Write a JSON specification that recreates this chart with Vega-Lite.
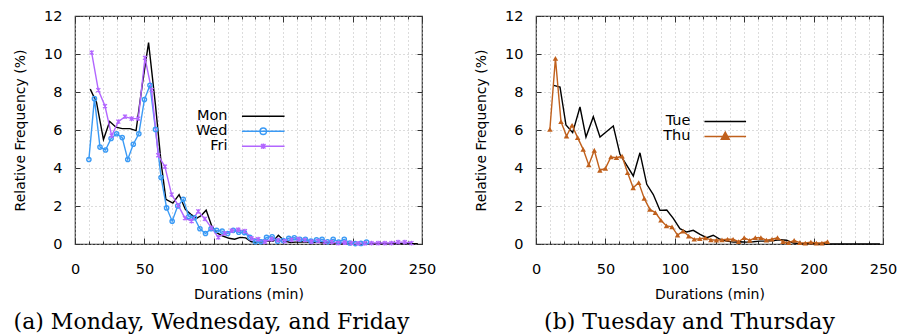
{
  "$schema": "https://vega.github.io/schema/vega-lite/v6.json",
  "background": "white",
  "padding": {"left": 12, "top": 7, "right": 5, "bottom": 0},
  "spacing": 36,
  "resolve": {"scale": {"color": "independent"}, "legend": {"color": "independent"}},
  "datasets": {
    "left": [
      {"day":"Mon","t":11,"f":8.15},{"day":"Mon","t":15.5,"f":7.45},{"day":"Mon","t":20.5,"f":5.5},{"day":"Mon","t":25,"f":6.45},{"day":"Mon","t":29.5,"f":6.15},{"day":"Mon","t":34,"f":6.07},{"day":"Mon","t":39.5,"f":6.07},{"day":"Mon","t":44,"f":5.97},{"day":"Mon","t":48.5,"f":8.4},{"day":"Mon","t":53,"f":10.6},{"day":"Mon","t":58,"f":7.3},{"day":"Mon","t":62,"f":4.3},{"day":"Mon","t":65.5,"f":2.35},{"day":"Mon","t":70.5,"f":2.15},{"day":"Mon","t":75,"f":2.6},{"day":"Mon","t":79.5,"f":1.82},{"day":"Mon","t":83.5,"f":1.56},{"day":"Mon","t":87.5,"f":1.35},{"day":"Mon","t":91,"f":1.5},{"day":"Mon","t":94.5,"f":1.78},{"day":"Mon","t":98.5,"f":0.95},{"day":"Mon","t":102,"f":0.6},{"day":"Mon","t":106.5,"f":0.42},{"day":"Mon","t":111,"f":0.3},{"day":"Mon","t":115,"f":0.25},{"day":"Mon","t":119,"f":0.35},{"day":"Mon","t":123,"f":0.32},{"day":"Mon","t":127,"f":0.12},{"day":"Mon","t":131,"f":0.1},{"day":"Mon","t":135,"f":0.12},{"day":"Mon","t":139,"f":0.15},{"day":"Mon","t":143,"f":0.16},{"day":"Mon","t":146.5,"f":0.46},{"day":"Mon","t":151,"f":0.16},{"day":"Mon","t":155,"f":0.08},{"day":"Mon","t":159,"f":0.1},{"day":"Mon","t":163,"f":0.12},{"day":"Mon","t":167,"f":0.1},{"day":"Mon","t":171,"f":0.08},{"day":"Mon","t":175,"f":0.1},{"day":"Mon","t":179,"f":0.05},{"day":"Mon","t":183,"f":0.08},{"day":"Mon","t":187,"f":0.05},{"day":"Mon","t":191,"f":0.05},{"day":"Mon","t":195,"f":0.03},{"day":"Mon","t":199,"f":0.05},{"day":"Mon","t":203,"f":0.02},{"day":"Mon","t":207,"f":0.03},{"day":"Mon","t":211,"f":0.02},{"day":"Mon","t":215,"f":0.02},{"day":"Mon","t":219,"f":0.02},{"day":"Mon","t":223,"f":0.03},{"day":"Mon","t":227,"f":0.02},{"day":"Mon","t":231,"f":0.02},{"day":"Mon","t":235,"f":0.03},{"day":"Mon","t":239,"f":0.02},{"day":"Mon","t":243,"f":0.02},{"day":"Mon","t":247,"f":0.02},
      {"day":"Wed","t":10,"f":4.45},{"day":"Wed","t":14,"f":7.65},{"day":"Wed","t":18,"f":5.1},{"day":"Wed","t":22,"f":4.95},{"day":"Wed","t":26,"f":5.55},{"day":"Wed","t":30,"f":5.8},{"day":"Wed","t":34,"f":5.6},{"day":"Wed","t":38,"f":4.45},{"day":"Wed","t":42,"f":5.25},{"day":"Wed","t":46,"f":5.8},{"day":"Wed","t":50,"f":7.6},{"day":"Wed","t":54,"f":8.35},{"day":"Wed","t":58,"f":6.03},{"day":"Wed","t":62,"f":3.5},{"day":"Wed","t":66,"f":1.9},{"day":"Wed","t":70,"f":1.2},{"day":"Wed","t":74,"f":2.0},{"day":"Wed","t":78,"f":2.35},{"day":"Wed","t":82,"f":1.45},{"day":"Wed","t":86,"f":1.38},{"day":"Wed","t":90,"f":0.8},{"day":"Wed","t":94,"f":0.55},{"day":"Wed","t":98,"f":0.8},{"day":"Wed","t":102,"f":0.72},{"day":"Wed","t":106,"f":0.68},{"day":"Wed","t":110,"f":0.55},{"day":"Wed","t":114,"f":0.72},{"day":"Wed","t":118,"f":0.62},{"day":"Wed","t":122,"f":0.6},{"day":"Wed","t":126,"f":0.35},{"day":"Wed","t":130,"f":0.12},{"day":"Wed","t":134,"f":0.12},{"day":"Wed","t":138,"f":0.35},{"day":"Wed","t":142,"f":0.38},{"day":"Wed","t":146,"f":0.15},{"day":"Wed","t":150,"f":0.18},{"day":"Wed","t":154,"f":0.3},{"day":"Wed","t":158,"f":0.33},{"day":"Wed","t":162,"f":0.25},{"day":"Wed","t":166,"f":0.25},{"day":"Wed","t":170,"f":0.15},{"day":"Wed","t":174,"f":0.22},{"day":"Wed","t":178,"f":0.25},{"day":"Wed","t":182,"f":0.12},{"day":"Wed","t":186,"f":0.25},{"day":"Wed","t":190,"f":0.1},{"day":"Wed","t":194,"f":0.25},{"day":"Wed","t":198,"f":0.05},{"day":"Wed","t":202,"f":0.02},{"day":"Wed","t":206,"f":0.03},{"day":"Wed","t":210,"f":0.1},
      {"day":"Fri","t":12,"f":10.07},{"day":"Fri","t":16.8,"f":8.1},{"day":"Fri","t":21.6,"f":7.26},{"day":"Fri","t":26.4,"f":5.7},{"day":"Fri","t":31.2,"f":6.44},{"day":"Fri","t":36,"f":6.7},{"day":"Fri","t":40.8,"f":6.6},{"day":"Fri","t":45.6,"f":6.6},{"day":"Fri","t":50.4,"f":9.8},{"day":"Fri","t":55.2,"f":8.1},{"day":"Fri","t":60,"f":4.67},{"day":"Fri","t":64.8,"f":4.07},{"day":"Fri","t":69.6,"f":2.6},{"day":"Fri","t":74.4,"f":2.03},{"day":"Fri","t":79.2,"f":1.36},{"day":"Fri","t":84,"f":1.21},{"day":"Fri","t":88.8,"f":1.72},{"day":"Fri","t":93.6,"f":1.32},{"day":"Fri","t":98.4,"f":0.85},{"day":"Fri","t":103.2,"f":0.35},{"day":"Fri","t":108,"f":0.56},{"day":"Fri","t":112.8,"f":0.7},{"day":"Fri","t":117.6,"f":0.75},{"day":"Fri","t":122.4,"f":0.68},{"day":"Fri","t":127.2,"f":0.3},{"day":"Fri","t":132,"f":0.25},{"day":"Fri","t":136.8,"f":0.12},{"day":"Fri","t":141.6,"f":0.25},{"day":"Fri","t":146.4,"f":0.2},{"day":"Fri","t":151.2,"f":0.15},{"day":"Fri","t":156,"f":0.22},{"day":"Fri","t":160.8,"f":0.25},{"day":"Fri","t":165.6,"f":0.2},{"day":"Fri","t":170.4,"f":0.12},{"day":"Fri","t":175.2,"f":0.15},{"day":"Fri","t":180,"f":0.1},{"day":"Fri","t":184.8,"f":0.1},{"day":"Fri","t":189.6,"f":0.05},{"day":"Fri","t":194.4,"f":0.08},{"day":"Fri","t":199.2,"f":0.05},{"day":"Fri","t":204,"f":0.03},{"day":"Fri","t":208.8,"f":0.03},{"day":"Fri","t":213.6,"f":0.05},{"day":"Fri","t":218.4,"f":0.05},{"day":"Fri","t":223.2,"f":0.05},{"day":"Fri","t":228,"f":0.05},{"day":"Fri","t":232.8,"f":0.1},{"day":"Fri","t":237.6,"f":0.1},{"day":"Fri","t":242.4,"f":0.05}
    ],
    "right": [
      {"day":"Tue","t":12.7,"f":8.35},{"day":"Tue","t":17.3,"f":8.26},{"day":"Tue","t":21.6,"f":6.26},{"day":"Tue","t":26.4,"f":5.86},{"day":"Tue","t":31.7,"f":7.21},{"day":"Tue","t":36,"f":5.63},{"day":"Tue","t":41.3,"f":6.7},{"day":"Tue","t":46.1,"f":5.63},{"day":"Tue","t":50.9,"f":5.92},{"day":"Tue","t":55.7,"f":6.21},{"day":"Tue","t":60.5,"f":4.72},{"day":"Tue","t":65.3,"f":4.15},{"day":"Tue","t":70.1,"f":3.58},{"day":"Tue","t":74.9,"f":4.8},{"day":"Tue","t":79.8,"f":3.14},{"day":"Tue","t":84.5,"f":2.6},{"day":"Tue","t":89.3,"f":1.77},{"day":"Tue","t":94.2,"f":1.79},{"day":"Tue","t":98.9,"f":1.35},{"day":"Tue","t":103.7,"f":0.81},{"day":"Tue","t":108.6,"f":0.63},{"day":"Tue","t":113.3,"f":0.72},{"day":"Tue","t":118.2,"f":0.51},{"day":"Tue","t":123,"f":0.33},{"day":"Tue","t":127.7,"f":0.46},{"day":"Tue","t":132.6,"f":0.25},{"day":"Tue","t":137.4,"f":0.15},{"day":"Tue","t":142.2,"f":0.1},{"day":"Tue","t":147,"f":0.12},{"day":"Tue","t":151.8,"f":0.1},{"day":"Tue","t":156.6,"f":0.12},{"day":"Tue","t":161.4,"f":0.15},{"day":"Tue","t":166.2,"f":0.15},{"day":"Tue","t":171,"f":0.18},{"day":"Tue","t":175.8,"f":0.22},{"day":"Tue","t":180.6,"f":0.2},{"day":"Tue","t":185.4,"f":0.05},{"day":"Tue","t":190.2,"f":0.02},{"day":"Tue","t":195,"f":0.02},{"day":"Tue","t":199.8,"f":0.01},{"day":"Tue","t":204.6,"f":0.01},{"day":"Tue","t":209.4,"f":0},{"day":"Tue","t":214.2,"f":0},{"day":"Tue","t":219,"f":0},{"day":"Tue","t":223.8,"f":0},{"day":"Tue","t":228.6,"f":0},{"day":"Tue","t":233.4,"f":0},{"day":"Tue","t":238.2,"f":0},{"day":"Tue","t":243,"f":0},{"day":"Tue","t":247.8,"f":0},
      {"day":"Thu","t":10,"f":6.03},{"day":"Thu","t":14,"f":9.77},{"day":"Thu","t":18,"f":6.44},{"day":"Thu","t":22,"f":5.68},{"day":"Thu","t":26,"f":6.25},{"day":"Thu","t":30,"f":5.6},{"day":"Thu","t":34,"f":4.98},{"day":"Thu","t":38,"f":4.16},{"day":"Thu","t":42,"f":4.93},{"day":"Thu","t":46,"f":3.88},{"day":"Thu","t":50,"f":3.98},{"day":"Thu","t":54,"f":4.58},{"day":"Thu","t":58,"f":4.54},{"day":"Thu","t":62,"f":4.62},{"day":"Thu","t":66,"f":3.75},{"day":"Thu","t":70,"f":2.96},{"day":"Thu","t":74,"f":3.23},{"day":"Thu","t":78,"f":2.4},{"day":"Thu","t":82,"f":1.82},{"day":"Thu","t":86,"f":1.65},{"day":"Thu","t":90,"f":1.25},{"day":"Thu","t":94,"f":0.95},{"day":"Thu","t":98,"f":0.9},{"day":"Thu","t":102,"f":0.47},{"day":"Thu","t":106,"f":0.68},{"day":"Thu","t":110,"f":0.42},{"day":"Thu","t":114,"f":0.25},{"day":"Thu","t":118,"f":0.28},{"day":"Thu","t":122,"f":0.32},{"day":"Thu","t":126,"f":0.22},{"day":"Thu","t":130,"f":0.2},{"day":"Thu","t":134,"f":0.22},{"day":"Thu","t":138,"f":0.25},{"day":"Thu","t":142,"f":0.25},{"day":"Thu","t":146,"f":0.12},{"day":"Thu","t":150,"f":0.33},{"day":"Thu","t":154,"f":0.19},{"day":"Thu","t":158,"f":0.33},{"day":"Thu","t":162,"f":0.33},{"day":"Thu","t":166,"f":0.2},{"day":"Thu","t":170,"f":0.25},{"day":"Thu","t":174,"f":0.33},{"day":"Thu","t":178,"f":0.12},{"day":"Thu","t":182,"f":0.07},{"day":"Thu","t":186,"f":0.19},{"day":"Thu","t":190,"f":0.07},{"day":"Thu","t":194,"f":0.05},{"day":"Thu","t":198,"f":0.1},{"day":"Thu","t":202,"f":0.05},{"day":"Thu","t":206,"f":0.05},{"day":"Thu","t":210,"f":0.12}
    ]
  },
  "hconcat": [
    {
      "width": 347,
      "height": 228,
      "data": {"name": "left"},
      "title": {"text": "(a) Monday, Wednesday, and Friday", "orient": "bottom", "anchor": "middle", "frame": "group", "dx": -37, "offset": 10, "font": "DejaVu Serif", "fontSize": 22, "fontWeight": "normal", "color": "#000"},
      "layer": [
        {
          "mark": {"type": "line", "strokeWidth": 1.4},
          "encoding": {
            "x": {"field": "t", "type": "quantitative", "scale": {"domain": [0, 250], "nice": false},
              "axis": {"orient": "bottom", "values": [0,10,20,30,40,50,60,70,80,90,100,110,120,130,140,150,160,170,180,190,200,210,220,230,240,250],
                "labelExpr": "datum.value % 50 === 0 ? datum.label : ''",
                "tickSize": {"condition": {"test": "datum.value % 50 === 0", "value": -6}, "value": -3},
                "labelPadding": 24, "labelFlush": false, "labelOverlap": false, "grid": true,
                "title": "Durations (min)", "titlePadding": 9}},
            "y": {"field": "f", "type": "quantitative", "scale": {"domain": [0, 12], "nice": false},
              "axis": {"orient": "left", "values": [0,2,4,6,8,10,12], "tickSize": -5, "labelPadding": 18, "grid": true,
                "title": "Relative Frequency (%)", "titlePadding": 16}},
            "color": {"field": "day", "type": "nominal",
              "scale": {"domain": ["Mon", "Wed", "Fri"], "range": ["#000000", "#3a9af5", "#b266ff"]},
              "legend": {"orient": "none", "legendX": 181, "legendY": 93, "title": null, "padding": 0,
                "symbolType": "stroke", "symbolSize": 100, "symbolStrokeWidth": 1.4,
                "labelAlign": "right", "labelOffset": -43, "labelFontSize": 14.5, "rowPadding": 0, "labelLimit": 0,
                "encode": {"symbols": {"update": {
                  "shape": {"signal": "datum.value === 'Wed' ? 'M-4.26,0H4.26M-0.64,0A0.64,0.64,0,1,0,0.64,0A0.64,0.64,0,1,0,-0.64,0' : datum.value === 'Fri' ? 'M-4.26,0H4.26M-0.45,-0.45L0.45,0.45M-0.45,0.45L0.45,-0.45M0,-0.55L0,0.55' : 'M-4.26,0H4.26'"},
                  "fill": {"value": "transparent"}}}}}}
          }
        },
        {
          "transform": [{"filter": "datum.day === 'Wed'"}],
          "mark": {"type": "point", "shape": "circle", "filled": false, "color": "#3a9af5", "strokeWidth": 1.4, "size": 18, "opacity": 1},
          "encoding": {
            "x": {"field": "t", "type": "quantitative",
              "axis": {"orient": "top", "values": [0,10,20,30,40,50,60,70,80,90,100,110,120,130,140,150,160,170,180,190,200,210,220,230,240,250],
                "tickSize": {"condition": {"test": "datum.value % 50 === 0", "value": -6}, "value": -3},
                "labels": false, "grid": false, "title": null}},
            "y": {"field": "f", "type": "quantitative",
              "axis": {"orient": "right", "values": [0,2,4,6,8,10,12], "tickSize": -5, "labels": false, "grid": false, "title": null}}
          }
        },
        {
          "transform": [{"filter": "datum.day === 'Fri'"}],
          "mark": {"type": "point", "shape": "M-1,-1L1,1M-1,1L1,-1M0,-1.2L0,1.2", "filled": false, "color": "#b266ff", "strokeWidth": 1.2, "size": 16, "opacity": 1},
          "encoding": {
            "x": {"field": "t", "type": "quantitative", "axis": null},
            "y": {"field": "f", "type": "quantitative", "axis": null}
          }
        }
      ]
    },
    {
      "width": 347,
      "height": 228,
      "data": {"name": "right"},
      "title": {"text": "(b) Tuesday and Thursday", "orient": "bottom", "anchor": "middle", "frame": "group", "dx": -20, "offset": 10, "font": "DejaVu Serif", "fontSize": 22, "fontWeight": "normal", "color": "#000"},
      "layer": [
        {
          "mark": {"type": "line", "strokeWidth": 1.4},
          "encoding": {
            "x": {"field": "t", "type": "quantitative", "scale": {"domain": [0, 250], "nice": false},
              "axis": {"orient": "bottom", "values": [0,10,20,30,40,50,60,70,80,90,100,110,120,130,140,150,160,170,180,190,200,210,220,230,240,250],
                "labelExpr": "datum.value % 50 === 0 ? datum.label : ''",
                "tickSize": {"condition": {"test": "datum.value % 50 === 0", "value": -6}, "value": -3},
                "labelPadding": 24, "labelFlush": false, "labelOverlap": false, "grid": true,
                "title": "Durations (min)", "titlePadding": 9}},
            "y": {"field": "f", "type": "quantitative", "scale": {"domain": [0, 12], "nice": false},
              "axis": {"orient": "left", "values": [0,2,4,6,8,10,12], "tickSize": -5, "labelPadding": 18, "grid": true,
                "title": "Relative Frequency (%)", "titlePadding": 16}},
            "color": {"field": "day", "type": "nominal",
              "scale": {"domain": ["Tue", "Thu"], "range": ["#000000", "#c0601c"]},
              "legend": {"orient": "none", "legendX": 182, "legendY": 98.2, "title": null, "padding": 0,
                "symbolType": "stroke", "symbolSize": 100, "symbolStrokeWidth": 1.4,
                "labelAlign": "right", "labelOffset": -42, "labelFontSize": 14.5, "rowPadding": 0, "labelLimit": 0,
                "encode": {"symbols": {"update": {
                  "shape": {"signal": "datum.value === 'Thu' ? 'M-4.16,0H4.16M0,-0.85L0.8,0.55L-0.8,0.55Z' : 'M-4.16,0H4.16'"},
                  "fill": {"signal": "datum.value === 'Thu' ? '#c0601c' : 'transparent'"}}}}}}
          }
        },
        {
          "transform": [{"filter": "datum.day === 'Thu'"}],
          "mark": {"type": "point", "shape": "triangle-up", "filled": true, "color": "#c0601c", "size": 30, "opacity": 1},
          "encoding": {
            "x": {"field": "t", "type": "quantitative",
              "axis": {"orient": "top", "values": [0,10,20,30,40,50,60,70,80,90,100,110,120,130,140,150,160,170,180,190,200,210,220,230,240,250],
                "tickSize": {"condition": {"test": "datum.value % 50 === 0", "value": -6}, "value": -3},
                "labels": false, "grid": false, "title": null}},
            "y": {"field": "f", "type": "quantitative",
              "axis": {"orient": "right", "values": [0,2,4,6,8,10,12], "tickSize": -5, "labels": false, "grid": false, "title": null}}
          }
        }
      ]
    }
  ],
  "config": {
    "view": {"stroke": "#333333", "strokeWidth": 1.2},
    "axis": {"labelFont": "DejaVu Sans", "titleFont": "DejaVu Sans", "labelFontSize": 14.5, "titleFontSize": 14, "titleFontWeight": "normal", "labelColor": "#000000", "titleColor": "#000000", "tickColor": "#333333", "tickWidth": 1, "domain": false, "gridColor": "#b8b8b8", "gridDash": [1, 3], "gridWidth": 1},
    "legend": {"labelFont": "DejaVu Sans", "labelColor": "#000000"}
  }
}
